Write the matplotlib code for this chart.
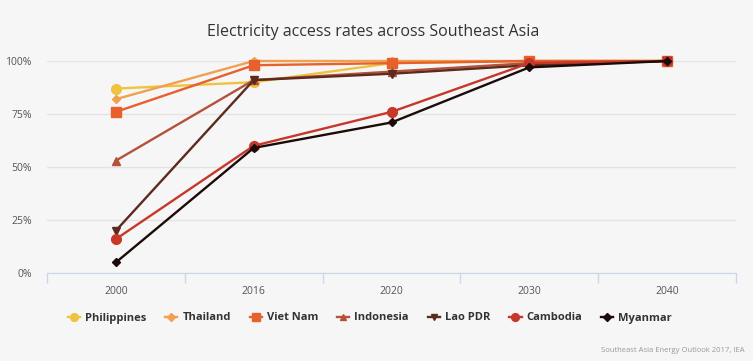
import matplotlib
matplotlib.use("Agg")
import matplotlib.pyplot as plt

plt.rcParams["font.family"] = ["Open Sans", "DejaVu Sans"]

years = ["2000", "2016", "2020", "2030", "2040"]
countries = ["Philippines", "Thailand", "Viet Nam", "Indonesia", "Lao PDR", "Cambodia", "Myanmar"]
philippines = [87, 90, 99, 100, 100]
thailand = [82, 100, 100, 100, 100]
viet_nam = [76, 98, 99, 100, 100]
indonesia = [53, 91, 95, 99, 100]
lao_pdr = [20, 91, 94, 98, 100]
cambodia = [16, 60, 76, 99, 100]
myanmar = [5, 59, 71, 97, 100]
y_ticks = [0, 25, 50, 75, 100]

series = [philippines, thailand, viet_nam, indonesia, lao_pdr, cambodia, myanmar]
colors = ["#efc33f", "#f0a04f", "#e8602c", "#b4523a", "#5b2b1d", "#c7372a", "#1c0b08"]
markers = ["o", "D", "s", "^", "v", "o", "D"]
msizes = [7, 4.5, 7, 6, 6, 7, 4.5]

bg = "#f6f6f6"
W, H = 753, 361
fig = plt.figure(figsize=(W / 100, H / 100), dpi=100, facecolor=bg)
# plot area in pixels: x 47..736, y 61..273
ax = fig.add_axes([47 / W, (H - 273) / H, (736 - 47) / W, (273 - 61) / H], facecolor=bg)

x = list(range(len(years)))
for name, vals, c, m, ms in zip(countries, series, colors, markers, msizes):
    ax.plot(x, vals, color=c, marker=m, markersize=ms, linewidth=1.7,
            label=name, clip_on=False, zorder=3)

ax.set_xlim(-0.5, len(years) - 0.5)
ax.set_ylim(0, 100)
ax.set_xticks(x)
ax.set_xticklabels(years)
ax.set_xticks([i - 0.5 for i in range(len(years) + 1)], minor=True)
ax.tick_params(axis="x", which="major", length=0, pad=9, labelsize=7.5, labelcolor="#555555")
ax.tick_params(axis="x", which="minor", length=7, color="#ccd6eb", width=1)
ax.set_yticks(y_ticks)
ax.set_yticklabels([f"{t}%" for t in y_ticks])
ax.tick_params(axis="y", length=0, pad=11, labelsize=7.5, labelcolor="#555555")
ax.grid(axis="y", color="#e3e3e3", linewidth=1, zorder=0)
for s in ["top", "right", "left"]:
    ax.spines[s].set_visible(False)
ax.spines["bottom"].set_color("#ccd6eb")
ax.spines["bottom"].set_zorder(1)

fig.text(373 / W, (H - 32) / H, "Electricity access rates across Southeast Asia",
         ha="center", va="center", fontsize=11.5, color="#333333")

leg = fig.legend(loc="center", bbox_to_anchor=(370 / W, (H - 318) / H), ncol=7,
                 frameon=False, handlelength=1.1, columnspacing=1.7, handletextpad=0.45,
                 markerscale=0.8, prop={"weight": "bold", "size": 8})
for t in leg.get_texts():
    t.set_color("#333333")

fig.text(745 / W, (H - 350) / H, "Southeast Asia Energy Outlook 2017, IEA",
         ha="right", va="center", fontsize=5.5, color="#999999")

fig.savefig("out.png", dpi=100, facecolor=bg)
